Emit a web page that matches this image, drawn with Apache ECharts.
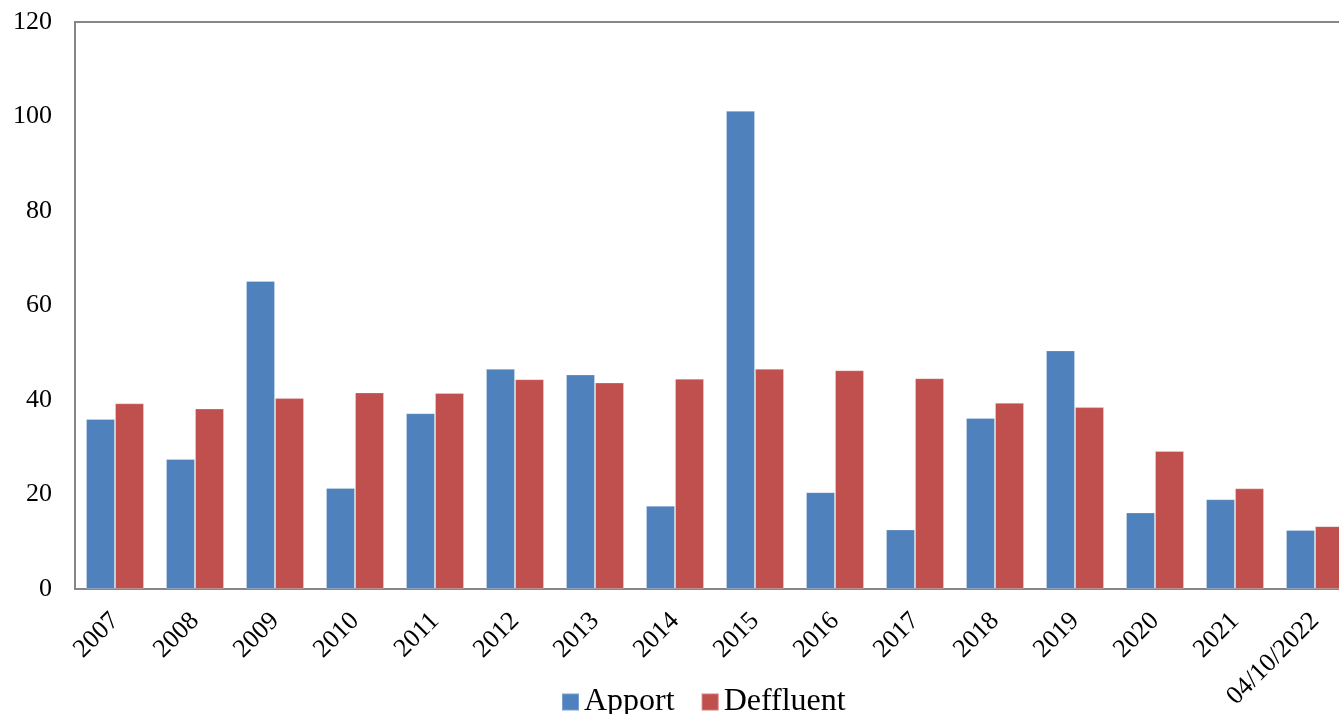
<!DOCTYPE html>
<html>
<head>
<meta charset="utf-8">
<script src="https://cdn.jsdelivr.net/npm/echarts@6/dist/echarts.min.js"></script>
<style>
html,body{margin:0;padding:0;background:#fff;overflow:hidden;}
#chart{width:1357px;height:714px;}
</style>
</head>
<body>
<div id="chart"></div>
<script>
const categories = ['2007','2008','2009','2010','2011','2012','2013','2014','2015','2016','2017','2018','2019','2020','2021','04/10/2022'];
const apport    = [36.0, 27.5, 65.2, 21.4, 37.2, 46.6, 45.4, 17.6, 101.2, 20.5, 12.6, 36.2, 50.5, 16.2, 19.0, 12.5];
const deffluent = [39.3, 38.2, 40.4, 41.6, 41.5, 44.4, 43.7, 44.5, 46.6, 46.3, 44.6, 39.4, 38.5, 29.2, 21.3, 13.3];
const seriesNames = ['Apport', 'Deffluent'];
const yTicks = {min: 0, max: 120, interval: 20};

const font = '"Liberation Serif", "Times New Roman", serif';
const chart = echarts.init(document.getElementById('chart'), null, {renderer: 'canvas'});
chart.setOption({
  animation: false,
  backgroundColor: '#ffffff',
  grid: {left: 75, top: 22, height: 567, width: 1280, show: true, borderColor: '#868686', borderWidth: 2, containLabel: false},
  legend: {
    data: seriesNames,
    left: 556, top: 681,
    itemWidth: 17, itemHeight: 17, itemGap: 26,
    icon: 'rect',
    textStyle: {fontFamily: font, fontSize: 32, color: '#000'}
  },
  xAxis: {
    type: 'category',
    data: categories,
    axisLine: {show: true, lineStyle: {color: '#868686', width: 2}},
    axisTick: {show: false},
    axisLabel: {rotate: 45, fontFamily: font, fontSize: 26, color: '#000', margin: 28, interval: 0}
  },
  yAxis: {
    type: 'value',
    min: yTicks.min, max: yTicks.max, interval: yTicks.interval,
    splitLine: {show: false},
    axisLine: {show: true, lineStyle: {color: '#868686', width: 2}},
    axisTick: {show: false},
    axisLabel: {fontFamily: font, fontSize: 26, color: '#000', margin: 23}
  },
  series: [
    {name: seriesNames[0], type: 'bar', data: apport, barGap: '0%', barCategoryGap: '27.5%',
     itemStyle: {color: '#4F81BD', borderColor: 'rgba(255,255,255,0.25)', borderWidth: 1}},
    {name: seriesNames[1], type: 'bar', data: deffluent, barGap: '0%', barCategoryGap: '27.5%',
     itemStyle: {color: '#C0504D', borderColor: 'rgba(255,255,255,0.25)', borderWidth: 1}}
  ]
});
</script>
</body>
</html>
